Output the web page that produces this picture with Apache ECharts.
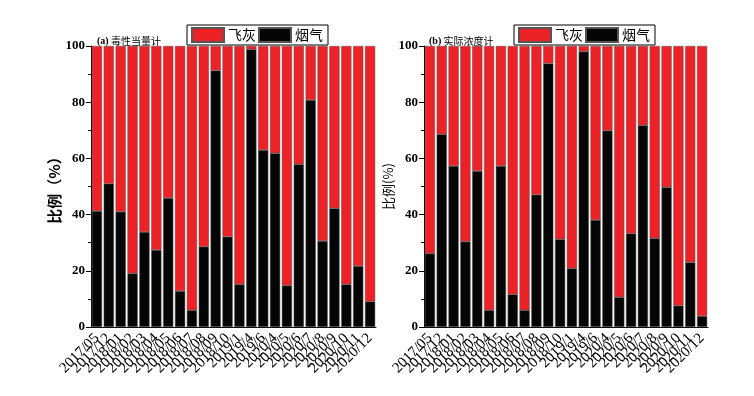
<!DOCTYPE html>
<html>
<head>
<meta charset="utf-8">
<script src="https://cdn.jsdelivr.net/npm/echarts@6/dist/echarts.min.js"></script>
<style>
  html, body { margin: 0; padding: 0; background: #fff; }
  #main { width: 754px; height: 396px; }
</style>
</head>
<body>
<div id="main"></div>
<script>
const months = ['2017/05', '2017/12', '2018/01', '2018/02', '2018/03', '2018/04', '2018/05', '2018/06',
  '2018/07', '2018/08', '2018/09', '2018/10', '2019/1', '2019/4', '2019/6', '2020/4', '2020/5',
  '2020/6', '2020/7', '2020/8', '2020/9', '2020/10', '2020/11', '2020/12']

// (a) 毒性当量计
const smokeA = [41.3, 51, 41, 19.1, 33.8, 27.4, 45.9, 12.8, 6, 28.6, 91.3, 32.1, 15.2, 98.8, 63, 61.8, 14.8, 57.9, 80.8, 30.6, 42.3, 15.2, 21.7, 9.1]
const ashA = [58.7, 49, 59, 80.9, 66.2, 72.6, 54.1, 87.2, 94, 71.4, 8.7, 67.9, 84.8, 1.2, 37, 38.2, 85.2, 42.1, 19.2, 69.4, 57.7, 84.8, 78.3, 90.9]

// (b) 实际浓度计
const smokeB = [26.2, 68.6, 57.3, 30.4, 55.5, 6, 57.3, 11.6, 6, 47.1, 93.8, 31.2, 20.9, 98, 38.1, 69.9, 10.6, 33.3, 71.8, 31.6, 49.7, 7.6, 23, 3.9]
const ashB = [73.8, 31.4, 42.7, 69.6, 44.5, 94, 42.7, 88.4, 94, 52.9, 6.2, 68.8, 79.1, 2, 61.9, 30.1, 89.4, 66.7, 28.2, 68.4, 50.3, 92.4, 77, 96.1]

const RED = '#ec2227'
const BLACK = '#050505'
const serif = '"Liberation Serif", "Noto Sans CJK SC", serif'
const cjk = '"Noto Sans CJK SC", sans-serif'

const myChart = echarts.init(document.getElementById('main'))

const xAxisOf = (idx) => ({
  type: 'category',
  gridIndex: idx,
  data: months,
  axisLine: { lineStyle: { color: '#000', width: 1 } },
  axisTick: { length: 4, lineStyle: { color: '#000' } },
  axisLabel: { rotate: 45, fontFamily: serif, fontSize: 15, color: '#000', interval: 0, margin: 9 },
})

const yAxisOf = (idx, name, bold, size) => ({
  type: 'value',
  gridIndex: idx,
  min: 0,
  max: 100,
  interval: 20,
  name: name,
  nameLocation: 'middle',
  nameGap: idx === 0 ? 27 : 14,
  nameTextStyle: { fontFamily: cjk, fontSize: size, fontWeight: bold ? 'bold' : 'normal', color: '#000' },
  axisLine: { show: true, lineStyle: { color: '#000', width: 1 } },
  axisTick: { show: true, length: 5, lineStyle: { color: '#000' } },
  minorTick: { show: true, splitNumber: 2, length: 3, lineStyle: { color: '#000' } },
  splitLine: { show: false },
  axisLabel: { fontFamily: serif, fontSize: 13, fontWeight: 'bold', color: '#000', margin: 6 },
})

const barOf = (name, data, color, idx) => ({
  name: name,
  type: 'bar',
  stack: 's' + idx,
  xAxisIndex: idx,
  yAxisIndex: idx,
  data: data,
  barCategoryGap: '14%',
  itemStyle: { color: color, borderColor: '#555', borderWidth: 0.5 },
})

const legendOf = (left) => ({
  left: left,
  top: 25,
  orient: 'horizontal',
  data: ['飞灰', '烟气'],
  icon: 'rect',
  itemWidth: 32,
  itemHeight: 14,
  itemGap: 2,
  padding: [2, 5, 2, 4],
  borderColor: '#000',
  borderWidth: 1,
  textStyle: { fontFamily: cjk, fontSize: 14, color: '#000', padding: [0, 0, 0, -1] },
})

const titleOf = (left, tag, text) => ({
  text: '{b|' + tag + '} ' + text,
  left: left,
  top: 31,
  textStyle: {
    fontFamily: cjk, fontSize: 10, fontWeight: 'normal', color: '#000',
    rich: { b: { fontFamily: serif, fontSize: 10, fontWeight: 'bold', color: '#000' } },
  },
})

const option = {
  backgroundColor: '#fff',
  animation: false,
  title: [titleOf(92, '(a)', '毒性当量计'), titleOf(424, '(b)', '实际浓度计')],
  legend: [legendOf(187), legendOf(514)],
  grid: [
    { left: 91, top: 46, width: 285, height: 281 },
    { left: 424, top: 46, width: 284, height: 281 },
  ],
  xAxis: [xAxisOf(0), xAxisOf(1)],
  yAxis: [yAxisOf(0, '比例（%）', true, 15), yAxisOf(1, '比例(%)', false, 13)],
  series: [
    barOf('烟气', smokeA, BLACK, 0),
    barOf('飞灰', ashA, RED, 0),
    barOf('烟气', smokeB, BLACK, 1),
    barOf('飞灰', ashB, RED, 1),
  ],
}

option && myChart.setOption(option)
</script>
</body>
</html>
